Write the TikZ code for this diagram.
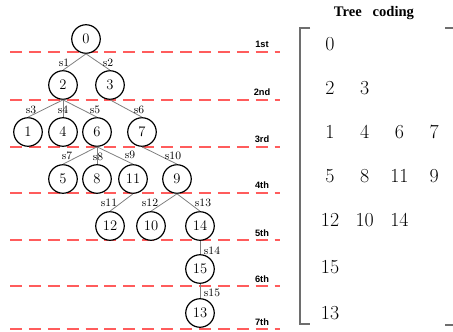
\documentclass[tikz,border=0pt]{standalone}
\usepackage{fontspec}
\usepackage{tikz}
\newfontfamily\levelfont{Liberation Sans}
\newfontfamily\titlefont{Liberation Serif}
\definecolor{levelred}{HTML}{FF5C5C}
\definecolor{edgegray}{HTML}{808080}
\definecolor{bracketgray}{HTML}{6E6E6E}

\begin{document}
\begin{tikzpicture}[x=0.0265cm,y=-0.0265cm,
    vert/.style={circle,draw=black,fill=white,line width=0.9pt,inner sep=0pt,
      minimum size=21.5pt,font=\fontsize{11}{11}\selectfont},
    treeedge/.style={draw=edgegray,line width=0.6pt},
    levelline/.style={draw=levelred,line width=1pt,dash pattern=on 9pt off 5.25pt},
    levellab/.style={anchor=base,font=\levelfont\bfseries\fontsize{7}{7}\selectfont},
    edgelab/.style={inner sep=0pt,font=\fontsize{8.5}{8.5}\selectfont},
    codenum/.style={inner sep=0pt,font=\fontsize{15}{15}\selectfont}]
  \useasboundingbox[fill=white] (0,0) rectangle (453,332);
  % levels
  \foreach \ly/\lab in {52/1st,100/2nd,147/3rd,193/4th,240/5th,286/6th,329/7th} {
    \draw[levelline] (10,\ly) -- (280,\ly);
    \node[levellab] (lv-\lab) at (262,\ly-4) {\lab};
  }
  % tree
  \node[vert] (n0)  at (86,39)   {0};
  \node[vert] (n2)  at (63,85)   {2};
  \node[vert] (n3)  at (110,85)  {3};
  \node[vert] (n1)  at (28,132)  {1};
  \node[vert] (n4)  at (63,132)  {4};
  \node[vert] (n6)  at (97,132)  {6};
  \node[vert] (n7)  at (142,132) {7};
  \node[vert] (n5)  at (63,179)  {5};
  \node[vert] (n8)  at (97,179)  {8};
  \node[vert] (n11) at (133,179) {11};
  \node[vert] (n9)  at (177,179) {9};
  \node[vert] (n12) at (110,226) {12};
  \node[vert] (n10) at (151,226) {10};
  \node[vert] (n14) at (200,226) {14};
  \node[vert] (n15) at (200,269) {15};
  \node[vert] (n13) at (200,313) {13};
  \foreach \a/\b in {n0/n2,n0/n3,n2/n1,n2/n4,n2/n6,n3/n7,n6/n5,n6/n8,n6/n11,
                     n7/n9,n11/n12,n9/n10,n9/n14,n14/n15,n15/n13}
    \draw[treeedge] (\a.south) -- (\b.north);
  \foreach \lx/\ly/\lab in {64/63/s1,108/63/s2,31/110/s3,63/110/s4,95/110/s5,
      139/110/s6,67/156/s7,98/157/s8,130/155/s9,173/156/s10,109/203/s11,
      150/203/s12,203/203/s13,212/251/s14,212/293/s15}
    \node[edgelab] (l-\lab) at (\lx,\ly) {\lab};
  % tree coding
  \node[font=\titlefont\bfseries\fontsize{11}{11}\selectfont] (title) at (374,13)
    {Tree\ \ \ coding};
  \begin{scope}[draw=bracketgray,line width=0.8pt]
    \draw (310,28) -- (300,28) -- (300,324) -- (310,324);
    \draw (445,28) -- (453,28);
    \draw (445,325) -- (453,325);
  \end{scope}
  \foreach \ry/\items [count=\r] in {44/{0},88/{2,3},132/{1,4,6,7},176/{5,8,11,9},
      220/{12,10,14},267/{15},313/{13}}
    \foreach \v [count=\c] in \items
      \node[codenum] (m-\r-\c) at (330+34.7*\c-34.7,\ry) {\v};
\end{tikzpicture}
\end{document}
